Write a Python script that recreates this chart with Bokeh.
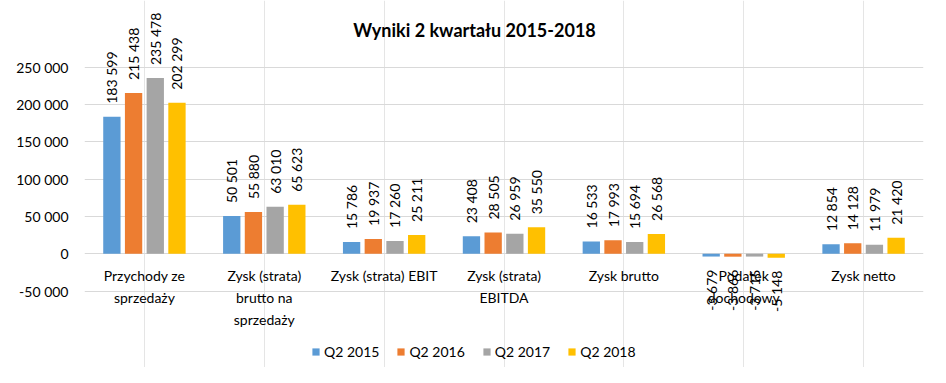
import math
from bokeh.plotting import figure
from bokeh.models import (ColumnDataSource, FactorRange, Range1d, FixedTicker, Label, Legend)
from bokeh.transform import dodge
from bokeh.core.properties import value
from bokeh.embed import file_html
from bokeh.resources import INLINE

categories = ["Przychody ze sprzedaży", "Zysk (strata) brutto na sprzedaży", "Zysk (strata) EBIT",
              "Zysk (strata) EBITDA", "Zysk brutto", "Podatek dochodowy", "Zysk netto"]
category_labels = ["Przychody ze\nsprzedaży", "Zysk (strata)\nbrutto na\nsprzedaży", "Zysk (strata) EBIT",
                   "Zysk (strata)\nEBITDA", "Zysk brutto", "Podatek\ndochodowy", "Zysk netto"]
series_names = ["Q2 2015", "Q2 2016", "Q2 2017", "Q2 2018"]
q2_2015 = [183599, 50501, 15786, 23408, 16533, -3679, 12854]
q2_2016 = [215438, 55880, 19937, 28505, 17993, -3866, 14128]
q2_2017 = [235478, 63010, 17260, 26959, 15694, -3715, 11979]
q2_2018 = [202299, 65623, 25211, 35550, 26568, -5148, 21420]
y_ticks = [-50000, 0, 50000, 100000, 150000, 200000, 250000]
title_text = "Wyniki 2 kwartału 2015-2018"

colors = ["#5B9BD5", "#ED7D31", "#A5A5A5", "#FFC000"]
FONT = "Lato"
TXT = "#000000"


def fmt(v):
    return f"{v:,}".replace(",", " ")


series = [q2_2015, q2_2016, q2_2017, q2_2018]

p = figure(width=930, height=367, output_backend="svg", toolbar_location=None,
           x_range=FactorRange(*categories), y_range=Range1d(-152331, 339362),
           x_axis_location=None, min_border_left=84, min_border_right=7,
           min_border_top=0, min_border_bottom=0)
p.outline_line_color = None
p.background_fill_color = "white"
p.border_fill_color = "white"

# y axis
ax = p.yaxis[0]
ax.ticker = FixedTicker(ticks=y_ticks)
ax.major_label_overrides = {t: fmt(t) for t in y_ticks}
ax.axis_line_color = None
ax.major_tick_line_color = None
ax.minor_tick_line_color = None
ax.major_label_standoff = 10
ax.major_label_text_font = FONT
ax.major_label_text_font_size = "14px"
ax.major_label_text_color = TXT
p.ygrid.ticker = FixedTicker(ticks=y_ticks)
p.ygrid.grid_line_color = "#D9D9D9"
p.ygrid.grid_line_width = 1

bar_w = 0.1445
step = 0.181
offsets = [-1.5 * step, -0.5 * step, 0.5 * step, 1.5 * step]

legend_items = []
for vals, name, col, off in zip(series, series_names, colors, offsets):
    src = ColumnDataSource(dict(cat=categories, val=vals))
    r = p.vbar(x=dodge("cat", off, range=p.x_range), top="val", width=bar_w,
               source=src, fill_color=col, line_color=None)
    legend_items.append((name, [r]))
    pos = [(c, v, fmt(v)) for c, v in zip(categories, vals) if v >= 0]
    neg = [(c, v, fmt(v)) for c, v in zip(categories, vals) if v < 0]
    for subset, align, yoff in ((pos, "left", -13), (neg, "right", 13)):
        if not subset:
            continue
        s = ColumnDataSource(dict(cat=[a[0] for a in subset], val=[a[1] for a in subset],
                                  lab=[a[2] for a in subset]))
        p.text(x=dodge("cat", off, range=p.x_range), y="val", text="lab", source=s,
               angle=math.pi / 2, text_align=align, text_baseline="middle", y_offset=yoff,
               text_font=value(FONT), text_font_size="14px", text_color=TXT)

# category labels
csrc = ColumnDataSource(dict(cat=categories, lab=category_labels, y=[0] * len(categories)))
p.text(x="cat", y="y", text="lab", source=csrc, text_align="center", text_baseline="top",
       y_offset=13, text_line_height=1.3, text_font=value(FONT), text_font_size="14px",
       text_color=TXT)

# title
p.add_layout(Label(x=3.254, y=299170, text=title_text, text_align="center", text_baseline="middle",
                   text_font=FONT, text_font_size="18px", text_font_style="bold", text_color=TXT))

legend = Legend(items=legend_items, orientation="horizontal", location=(227, 7),
                glyph_width=9, glyph_height=9, label_standoff=4, spacing=17,
                padding=0, margin=0, border_line_color=None, background_fill_alpha=0,
                label_text_font=FONT, label_text_font_size="14px", label_text_color=TXT)
p.add_layout(legend)

open("out.html", "w").write(file_html(p, INLINE))
